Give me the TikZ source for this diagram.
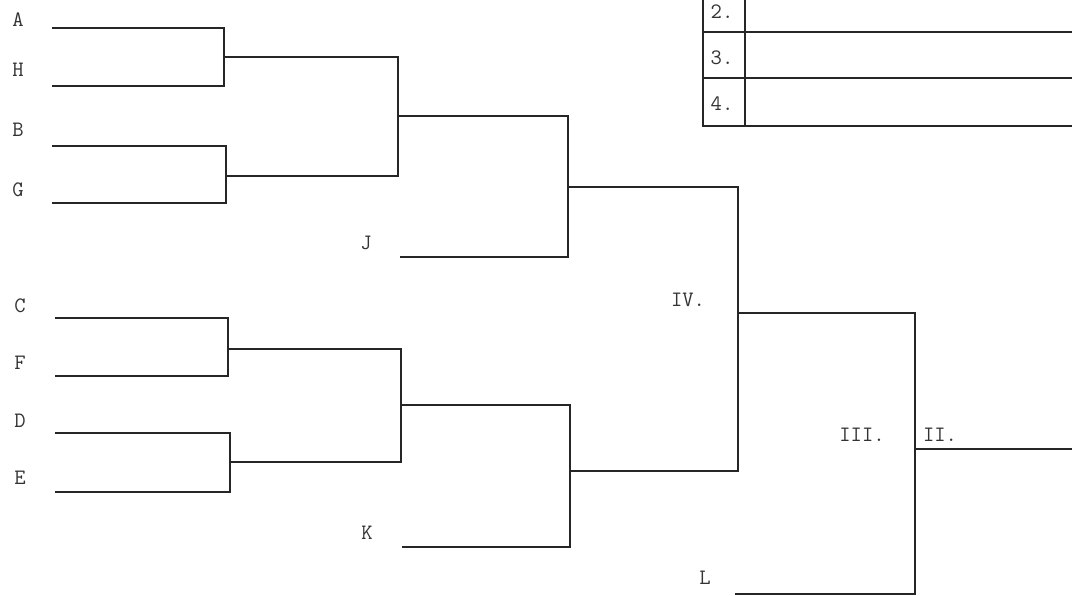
\documentclass[tikz,border=0pt]{standalone}
\usepackage{tikz}

\begin{document}
\begin{tikzpicture}[x=0.5pt, y=-0.5pt,
  bline/.style={line width=1.4pt, black!85},
  seed/.style={font=\ttfamily\fontsize{11}{12}\selectfont, text=black!80, inner sep=0pt}]
\useasboundingbox (0,0) rectangle (1072,595);

% results table in the corner
\draw[bline] (703,0) -- (703,126) -- (1072,126);
\draw[bline] (745,0) -- (745,126);
\draw[bline] (703,32) -- (1072,32);
\draw[bline] (703,78) -- (1072,78);
\node[seed] (r2) at (722,12) {2.};
\node[seed] (r3) at (722,58) {3.};
\node[seed] (r4) at (722,104) {4.};

% entries
\node[seed] (A) at (18,20) {A};
\node[seed] (H) at (18,70) {H};
\node[seed] (B) at (18,130) {B};
\node[seed] (G) at (18,190) {G};
\node[seed] (C) at (20,306) {C};
\node[seed] (F) at (20,363) {F};
\node[seed] (D) at (20,421) {D};
\node[seed] (E) at (20,478) {E};
\node[seed] (J) at (366,243) {J};
\node[seed] (K) at (367,533) {K};
\node[seed] (L) at (705,578) {L};
\node[seed] (IV) at (688,300) {IV.};
\node[seed] (III) at (862,435) {III.};
\node[seed] (II) at (940,435) {II.};

\coordinate (pA) at (52,28);
\coordinate (pH) at (52,86);
\coordinate (pB) at (52,146);
\coordinate (pG) at (52,203);
\coordinate (pC) at (55,318);
\coordinate (pF) at (55,376);
\coordinate (pD) at (55,433);
\coordinate (pE) at (55,492);
\coordinate (pJ) at (400,257);
\coordinate (pK) at (402,547);
\coordinate (pL) at (735,594);

% junctions
\coordinate (jAH) at (224,57);
\coordinate (jBG) at (226,176);
\coordinate (jCF) at (228,349);
\coordinate (jDE) at (230,462);
\coordinate (q1) at (398,116);
\coordinate (q2) at (401,405);
\coordinate (s1) at (568,187);
\coordinate (s2) at (570,471);
\coordinate (f1) at (738,313);
\coordinate (f2) at (915,449);
\coordinate (win) at (1072,449);

% first round
\draw[bline] (pA) -| (jAH) |- (pH);
\draw[bline] (pB) -| (jBG) |- (pG);
\draw[bline] (pC) -| (jCF) |- (pF);
\draw[bline] (pD) -| (jDE) |- (pE);
% second round
\draw[bline] (jAH) -| (q1) |- (jBG);
\draw[bline] (jCF) -| (q2) |- (jDE);
\draw[bline] (q1) -| (s1) |- (pJ);
\draw[bline] (q2) -| (s2) |- (pK);
% final rounds
\draw[bline] (s1) -| (f1) |- (s2);
\draw[bline] (f1) -| (f2) |- (pL);
\draw[bline] (f2) -- (win);
\end{tikzpicture}
\end{document}
